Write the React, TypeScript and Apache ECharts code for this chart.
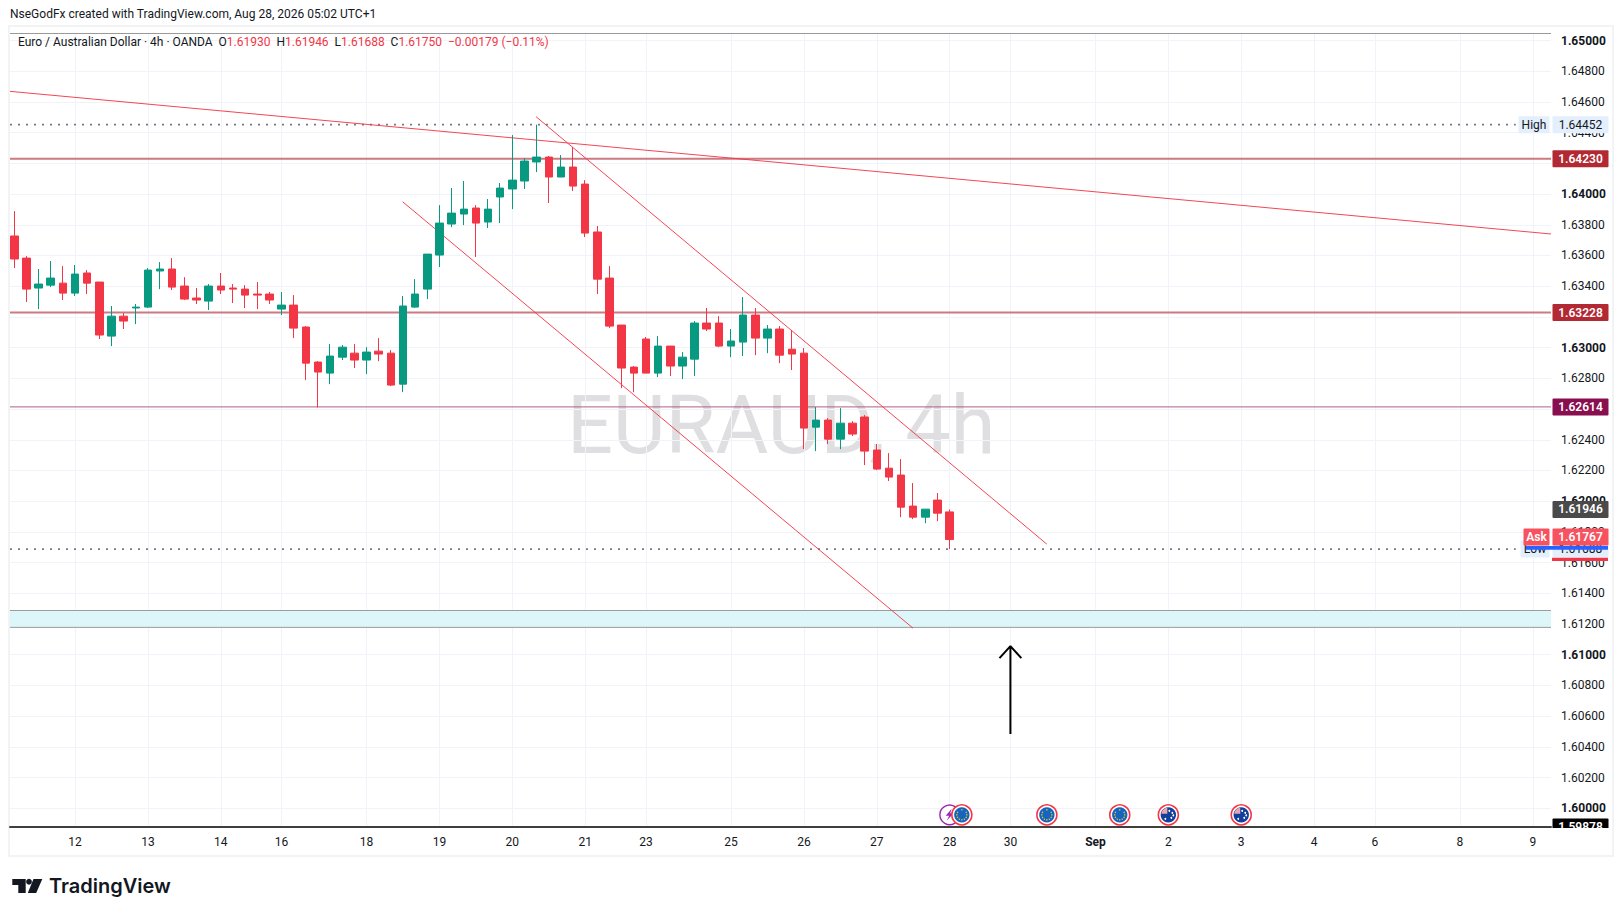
import React, { useEffect, useRef } from "react";
import * as echarts from "echarts";

const opens = [1.63727,1.63583,1.63388,1.63407,1.6342,1.63355,1.63486,1.63427,1.63075,1.63205,1.63258,1.63264,1.63499,1.63512,1.63401,1.63323,1.63303,1.63401,1.63388,1.63381,1.63349,1.63349,1.63251,1.63277,1.63134,1.62906,1.62834,1.62938,1.62964,1.62919,1.62977,1.62964,1.62762,1.63264,1.63381,1.63603,1.63805,1.6387,1.63909,1.63818,1.63981,1.64033,1.64085,1.64209,1.64241,1.64111,1.64176,1.64065,1.63753,1.63453,1.63147,1.62873,1.63056,1.62834,1.6301,1.6288,1.62925,1.6316,1.6316,1.6301,1.63036,1.63212,1.63062,1.63121,1.6299,1.62964,1.62482,1.62528,1.62404,1.62508,1.62548,1.62333,1.62215,1.6217,1.61968,1.61896,1.62007,1.6193];
const closes = [1.63577,1.63381,1.63414,1.63453,1.63355,1.63479,1.6342,1.63082,1.63205,1.63173,1.63264,1.63505,1.63512,1.63394,1.63316,1.6331,1.63401,1.63375,1.63381,1.63342,1.63342,1.6331,1.63277,1.63127,1.62899,1.62841,1.62945,1.63003,1.62919,1.62971,1.62958,1.62756,1.63271,1.63349,1.63609,1.63811,1.63876,1.63902,1.63811,1.63902,1.64039,1.64091,1.64215,1.64241,1.64111,1.64176,1.64052,1.63746,1.63446,1.6314,1.62867,1.62834,1.62834,1.6301,1.6288,1.62938,1.6316,1.63121,1.6301,1.63043,1.63212,1.63062,1.63121,1.62951,1.62958,1.62476,1.62528,1.62404,1.62508,1.62437,1.62326,1.62209,1.62157,1.61961,1.61896,1.61948,1.61922,1.6175];
const lows = [1.63518,1.63297,1.63251,1.63394,1.6331,1.63336,1.63349,1.63056,1.6301,1.63121,1.63153,1.63258,1.63381,1.63375,1.6331,1.63284,1.63245,1.63349,1.6329,1.63258,1.63251,1.63284,1.63212,1.63062,1.62788,1.6261,1.62762,1.62919,1.62867,1.62828,1.62912,1.62749,1.6271,1.63258,1.63316,1.63525,1.63785,1.63798,1.6359,1.63779,1.63811,1.63902,1.64033,1.64143,1.63942,1.64111,1.6402,1.6372,1.63349,1.63127,1.62736,1.6271,1.62834,1.62808,1.62815,1.62795,1.62815,1.63108,1.63003,1.62938,1.62945,1.62951,1.62964,1.62899,1.62854,1.62339,1.62326,1.62372,1.62339,1.62424,1.62235,1.62202,1.62131,1.61896,1.61883,1.61857,1.6187,1.61688];
const highs = [1.63889,1.63596,1.63512,1.63564,1.63531,1.63538,1.63505,1.63427,1.63271,1.63225,1.63284,1.63518,1.63557,1.63583,1.63459,1.63388,1.63414,1.63486,1.63414,1.63407,1.63427,1.63362,1.63362,1.63342,1.6314,1.62912,1.63023,1.63017,1.63023,1.63003,1.63062,1.62984,1.63336,1.63446,1.63609,1.63928,1.64039,1.64085,1.63928,1.63968,1.64072,1.64384,1.64235,1.64452,1.64248,1.64254,1.64306,1.64091,1.63792,1.63531,1.63147,1.6288,1.63069,1.63075,1.6301,1.62971,1.63173,1.63258,1.63205,1.63121,1.63329,1.63258,1.63147,1.6314,1.63114,1.62997,1.62613,1.62541,1.62606,1.62521,1.62561,1.62372,1.62313,1.62274,1.62118,1.61948,1.62053,1.61946];

const xTickIndex = [5, 11, 17, 22, 29, 35, 41, 47, 52, 59, 65, 71, 77, 82, 89, 95, 101, 107, 112, 119, 125];
const xTickLabels = ["12","13","14","16","18","19","20","21","23","25","26","27","28","30","Sep","2","3","4","6","8","9"];
const yTicks = [1.6,1.602,1.604,1.606,1.608,1.61,1.612,1.614,1.616,1.618,1.62,1.622,1.624,1.626,1.628,1.63,1.632,1.634,1.636,1.638,1.64,1.642,1.644,1.646,1.648,1.65];
const boldY = [1.6,1.61,1.62,1.63,1.64,1.65];

const trendLong = [[-0.354,1.64669],[126.5,1.6374]];
const trendUpper = [[42.95,1.64504],[85,1.6172]];
const trendLower = [[31.97,1.6395],[73.98,1.61173]];
const levels = [1.6423,1.63228,1.62614];
const highValue = 1.64452;
const lowValue = 1.61688;
const zoneTop = 1.61288;
const zoneBottom = 1.61178;
const arrowPath = [[82,1.60483],[82,1.61056],[81.1,1.60978],[82,1.61056],[82.9,1.60978]];
const eventX = [77,78,85,91,95,101];
const eventKinds = ["flash","eu","eu","eu","au","au"];
const eventPrice = 1.59957;

const X_MIN = -0.354;
const X_MAX = 126.5;
const Y_MIN = 1.59878;
const Y_MAX = 1.65049;
const RED = "#f23645";
const GREEN = "#089981";
const FONT = "Roboto, sans-serif";

function tag(x, price, text, bg, color, pos, w, bold) {
  return {
    value: [x, price],
    label: {
      show: true, position: pos, distance: 1 + w / 2, formatter: text, backgroundColor: bg, color,
      width: w, height: 17, lineHeight: 17, align: "center", verticalAlign: "middle",
      fontFamily: FONT, fontSize: 12, fontWeight: bold ? 600 : 400, borderRadius: 1, padding: 0,
    },
  };
}

function hLine(name, v, end, color, width, type) {
  return {
    type: "line", name, data: [[X_MIN, v], [end, v]], symbol: "none", silent: true, z: 2,
    lineStyle: { color, width, type },
  };
}

function tLine(name, data) {
  return {
    type: "line", name, data, symbol: "none", silent: true, z: 3,
    lineStyle: { color: RED, width: 1, opacity: 0.92 },
  };
}

function renderEvent(params, api) {
  const [cx, cy] = api.coord([api.value(0), api.value(1)]);
  const kind = eventKinds[api.value(2)];
  const children = [];
  if (kind === "flash") {
    children.push({ type: "circle", shape: { cx, cy, r: 9.8 }, style: { fill: "#fff", stroke: "#9c27b0", lineWidth: 1.4 } });
    children.push({
      type: "polygon",
      shape: { points: [[cx + 2, cy - 6], [cx - 4, cy + 1], [cx - 0.5, cy + 1], [cx - 3, cy + 6], [cx + 4, cy - 1.5], [cx + 0.5, cy - 1.5]] },
      style: { fill: "#9c27b0" },
    });
  } else {
    children.push({ type: "circle", shape: { cx, cy, r: 10 }, style: { fill: "#fff", stroke: RED, lineWidth: 1.6 } });
    children.push({ type: "circle", shape: { cx, cy, r: 7.7 }, style: { fill: kind === "eu" ? "#1565c0" : "#123f9c" } });
    if (kind === "eu") {
      for (let k = 0; k < 12; k++) {
        const a = (k * Math.PI) / 6;
        children.push({ type: "circle", shape: { cx: cx + 5 * Math.cos(a), cy: cy + 5 * Math.sin(a), r: 0.7 }, style: { fill: "#e8c531" } });
      }
    } else {
      children.push({ type: "sector", shape: { cx: cx - 1, cy: cy - 1, r: 6, r0: 0, startAngle: Math.PI, endAngle: Math.PI * 1.5 }, style: { fill: "#e9a6ab" } });
      [[-3, 4], [3, 3], [4, -2], [1, -4], [5, 0.5]].forEach(([dx, dy]) =>
        children.push({ type: "circle", shape: { cx: cx + dx, cy: cy + dy, r: 0.9 }, style: { fill: "#fff" } })
      );
    }
  }
  return { type: "group", children };
}

export default function App() {
  const ref = useRef(null);
  useEffect(() => {
    document.body.style.margin = "0";
    document.body.style.background = "#fff";
    const chart = echarts.init(ref.current, null, { renderer: "svg" });
    const candles = opens.map((o, i) => [i, o, closes[i], lows[i], highs[i]]);
    const option = {
      animation: false,
      backgroundColor: "#ffffff",
      grid: { left: 10, top: 33, width: 1541, height: 794, containLabel: false },
      xAxis: {
        type: "value", min: X_MIN, max: X_MAX, position: "bottom",
        axisLine: { show: true, onZero: false, lineStyle: { color: "#3f3f3f", width: 2 } },
        axisTick: { show: false, customValues: xTickIndex },
        axisLabel: {
          customValues: xTickIndex, margin: 9, color: "#131722", fontFamily: FONT, fontSize: 12, showMinLabel: true, showMaxLabel: true,
          formatter: (v) => {
            const s = xTickLabels[xTickIndex.indexOf(Math.round(v))] ?? "";
            return s === "Sep" ? `{b|${s}}` : s;
          },
          rich: { b: { fontWeight: 700, fontFamily: FONT, fontSize: 12, color: "#131722" } },
        },
        splitLine: { show: true, lineStyle: { color: "#f0f3fa", width: 1 } },
      },
      yAxis: {
        type: "value", min: Y_MIN, max: Y_MAX, position: "right", scale: true,
        axisLine: { show: false },
        axisTick: { show: false, customValues: yTicks },
        axisLabel: {
          customValues: yTicks, inside: false, margin: 10, color: "#131722", fontFamily: FONT, fontSize: 12,
          align: "left",
          formatter: (v) => {
            const s = v.toFixed(5);
            return boldY.some((b) => Math.abs(b - v) < 1e-6) ? `{b|${s}}` : s;
          },
          rich: { b: { fontWeight: 700, fontFamily: FONT, fontSize: 12, color: "#131722" } },
        },
        splitLine: { show: true, lineStyle: { color: "#f0f3fa", width: 1 } },
      },
      graphic: [
        { type: "text", z: -1, silent: true, style: { x: 567, y: 385, text: "EURAUD, 4h", fill: "#dfdfe1", font: "81px Roboto, sans-serif" } },
        { type: "rect", z: -2, silent: true, shape: { x: 9, y: 26, width: 1604, height: 830 }, style: { fill: "none", stroke: "#f2f3f5", lineWidth: 2 } },
        { type: "line", z: 4, silent: true, shape: { x1: 10, y1: 33.5, x2: 1551, y2: 33.5 }, style: { stroke: "#9a9a9a", lineWidth: 1 } },
        { type: "text", z: 100, silent: true, style: { x: 10, y: 8, text: "NseGodFx created with TradingView.com, Aug 28, 2026 05:02 UTC+1", fill: "#131722", font: "12px Roboto, sans-serif" } },
        {
          type: "text", z: 100, silent: true,
          style: {
            x: 18, y: 36,
            text: "{k|Euro / Australian Dollar · 4h · OANDA  O}{r|1.61930}{k|  H}{r|1.61946}{k|  L}{r|1.61688}{k|  C}{r|1.61750}{r|  −0.00179 (−0.11%)}",
            font: "12px Roboto, sans-serif",
            rich: {
              k: { fill: "#131722", font: "12px Roboto, sans-serif" },
              r: { fill: RED, font: "12px Roboto, sans-serif" },
            },
          },
        },
        { type: "rect", z: 101, silent: true, shape: { x: 1552, y: 828, width: 57, height: 10 }, style: { fill: "#fff" } },
        { type: "rect", z: 101, silent: true, shape: { x: 1526, y: 546, width: 82, height: 3.7 }, style: { fill: "#2962ff" } },
        { type: "rect", z: 101, silent: true, shape: { x: 1552, y: 557.7, width: 56, height: 3.3 }, style: { fill: RED } },
        { type: "polygon", z: 100, silent: true, shape: { points: [[12.3,879],[25.7,879],[25.7,893],[18.3,893],[18.3,885],[12.3,885]] }, style: { fill: "#131722" } },
        { type: "circle", z: 100, silent: true, shape: { cx: 29, cy: 881.8, r: 2.9 }, style: { fill: "#131722" } },
        { type: "polygon", z: 100, silent: true, shape: { points: [[33.5,879],[42.3,879],[36.2,893],[27.8,893]] }, style: { fill: "#131722" } },
        { type: "text", z: 100, silent: true, style: { x: 49, y: 875.5, text: "TradingView", fill: "#131722", font: "600 20px Inter, sans-serif" } },
      ],
      series: [
        {
          type: "line", name: "zone", data: [[X_MIN, zoneTop], [X_MAX, zoneTop]], symbol: "none", silent: true, z: 1,
          lineStyle: { color: "#9b9b9b", width: 1 },
          markArea: {
            silent: true, itemStyle: { color: "#dcf6f9" },
            data: [[{ coord: [X_MIN, zoneTop] }, { coord: [X_MAX, zoneBottom] }]],
          },
        },
        { type: "line", name: "zoneBottom", data: [[X_MIN, zoneBottom], [X_MAX, zoneBottom]], symbol: "none", silent: true, z: 1, lineStyle: { color: "#9b9b9b", width: 1 } },
        hLine("level1", levels[0], X_MAX, "#cc7a81", 2, "solid"),
        hLine("level2", levels[1], X_MAX, "#cc7a81", 2, "solid"),
        hLine("level3", levels[2], X_MAX, "#b0607f", 1, "solid"),
        hLine("high", highValue, 123.6, "#787b86", 1.6, [2, 6]),
        hLine("low", lowValue, 123.6, "#787b86", 1.6, [2, 6]),
        tLine("trendLong", trendLong),
        tLine("trendUpper", trendUpper),
        tLine("trendLower", trendLower),
        {
          type: "candlestick", name: "EURAUD", data: candles, barWidth: 8, z: 5, silent: true, clip: true,
          itemStyle: { color: GREEN, color0: RED, borderColor: GREEN, borderColor0: RED, borderWidth: 1 },
        },
        {
          type: "line", name: "arrow", data: arrowPath, symbol: "none", silent: true, z: 6,
          lineStyle: { color: "#000", width: 2 },
        },
        {
          type: "custom", name: "events", renderItem: renderEvent, silent: true, z: 7, clip: false,
          data: eventX.map((x, i) => [x, eventPrice, i]),
          encode: { x: 0, y: 1 },
        },
        {
          type: "scatter", name: "tags", symbolSize: 1, silent: true, z: 20, clip: false,
          itemStyle: { color: "transparent", opacity: 1 },
          data: [
            tag(X_MAX, Y_MIN, "1.59878", "#000", "#fff", "right", 56, true),
            tag(X_MAX, highValue, "1.64452", "#e3effd", "#131722", "right", 56, false),
            tag(X_MAX, highValue, "High", "#e3effd", "#131722", "left", 31, false),
            tag(X_MAX, lowValue, "1.61688", "#e3effd", "#131722", "right", 56, false),
            tag(X_MAX, lowValue, "Low", "#e3effd", "#131722", "left", 29, false),
            tag(X_MAX, levels[0], "1.64230", "#b22833", "#fff", "right", 56, true),
            tag(X_MAX, levels[1], "1.63228", "#b22833", "#fff", "right", 56, true),
            tag(X_MAX, levels[2], "1.62614", "#880e4f", "#fff", "right", 56, true),
            tag(X_MAX, 1.61946, "1.61946", "#4a4a4a", "#fff", "right", 56, true),
            tag(X_MAX, 1.61767, "1.61767", "#f7525f", "#fff", "right", 56, true),
            tag(X_MAX, 1.61767, "Ask", "#f7525f", "#fff", "left", 26, true),
          ],
        },
      ],
    };
    chart.setOption(option);
    return () => chart.dispose();
  }, []);
  return <div ref={ref} style={{ width: 1623, height: 916 }} />;
}
